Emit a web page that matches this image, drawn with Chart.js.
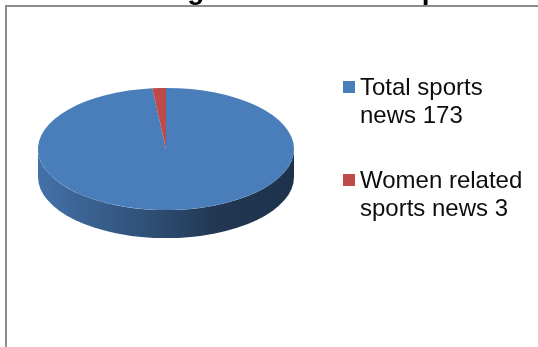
<!DOCTYPE html>
<html>
<head>
<meta charset="utf-8">
<script src="https://cdn.jsdelivr.net/npm/chart.js@4.4.1/dist/chart.umd.min.js"></script>
<style>
  html, body { margin: 0; padding: 0; background: #fff; }
  canvas { display: block; }
</style>
</head>
<body>
<canvas id="chart" width="538" height="347"></canvas>
<script>
const chartTitle = 'Coverage of Women in Sports';
const categories = ['Total sports news', 'Women related sports news'];
const newsCounts = [173, 3];
const sliceColors = ['#4a7ebb', '#be4b48'];

// look of the tilted pie
const TILT = 0.477;
const DEPTH = 28;
const FONT = '"Liberation Sans", Arial, sans-serif';

const shade = (hex, f) => {
  const n = parseInt(hex.slice(1), 16);
  const r = Math.round(((n >> 16) & 255) * f);
  const g = Math.round(((n >> 8) & 255) * f);
  const b = Math.round((n & 255) * f);
  return `rgb(${r},${g},${b})`;
};

const wrapText = (ctx, text, maxWidth) => {
  const lines = [];
  let line = '';
  text.split(' ').forEach((word) => {
    const next = line ? line + ' ' + word : word;
    if (line && ctx.measureText(next).width > maxWidth) {
      lines.push(line);
      line = word;
    } else {
      line = next;
    }
  });
  if (line) {
    lines.push(line);
  }
  return lines;
};

// side wall under the front half, then squash the top face
const pie3d = {
  id: 'pie3d',
  beforeDatasetsDraw(chart) {
    const ctx = chart.ctx;
    const meta = chart.getDatasetMeta(0);
    const { x, y, outerRadius } = meta.data[0].getProps(['x', 'y', 'outerRadius'], true);
    const ry = outerRadius * TILT;

    meta.data.forEach((arc, i) => {
      const { startAngle, endAngle } = arc.getProps(['startAngle', 'endAngle'], true);
      const grad = ctx.createLinearGradient(x - outerRadius, 0, x + outerRadius, 0);
      grad.addColorStop(0, shade(sliceColors[i], 0.9));
      grad.addColorStop(0.45, shade(sliceColors[i], 0.62));
      grad.addColorStop(0.7, shade(sliceColors[i], 0.44));
      grad.addColorStop(1, shade(sliceColors[i], 0.4));

      for (const shift of [0, 2 * Math.PI, -2 * Math.PI]) {
        const a = Math.max(startAngle + shift, 0);
        const b = Math.min(endAngle + shift, Math.PI);
        if (b <= a) {
          continue;
        }
        ctx.beginPath();
        ctx.ellipse(x, y, outerRadius, ry, 0, a, b);
        ctx.ellipse(x, y + DEPTH, outerRadius, ry, 0, b, a, true);
        ctx.closePath();
        ctx.fillStyle = grad;
        ctx.fill();
      }
    });

    ctx.save();
    ctx.translate(x, y);
    ctx.scale(1, TILT);
    ctx.translate(-x, -y);
  },
  afterDatasetsDraw(chart) {
    chart.ctx.restore();
  },
};

const frameAndText = {
  id: 'frameAndText',
  beforeDraw(chart) {
    const ctx = chart.ctx;
    ctx.save();
    ctx.fillStyle = '#fff';
    ctx.fillRect(0, 0, chart.width, chart.height);
    ctx.strokeStyle = '#8c8c8c';
    ctx.lineWidth = 2;
    ctx.strokeRect(6, 6, 700, 500);
    ctx.restore();
  },
  afterDraw(chart) {
    const ctx = chart.ctx;
    ctx.save();

    // title sits mostly above the top edge
    ctx.font = `bold 28px ${FONT}`;
    ctx.fillStyle = '#000';
    ctx.textAlign = 'center';
    ctx.textBaseline = 'alphabetic';
    ctx.fillText(chartTitle, 292, -1.5);

    // legend
    ctx.font = `24px ${FONT}`;
    ctx.textAlign = 'left';
    const lineHeight = 28;
    let top = 81;
    categories.forEach((name, i) => {
      ctx.fillStyle = sliceColors[i];
      ctx.fillRect(343, top, 12, 12);
      ctx.fillStyle = '#0d0d0d';
      const lines = wrapText(ctx, `${name} ${newsCounts[i]}`, 172);
      lines.forEach((line, j) => {
        ctx.fillText(line, 360, top + 14 + j * lineHeight);
      });
      top += 93;
    });
    ctx.restore();
  },
};

new Chart(document.getElementById('chart'), {
  type: 'pie',
  data: {
    labels: categories,
    datasets: [{
      data: newsCounts,
      backgroundColor: sliceColors,
      borderWidth: 0,
    }],
  },
  options: {
    responsive: false,
    animation: false,
    events: [],
    layout: {
      padding: { left: 38, right: 244, top: 21, bottom: 70 },
    },
    plugins: {
      legend: { display: false },
      tooltip: { enabled: false },
      title: { display: false },
    },
  },
  plugins: [frameAndText, pie3d],
});
</script>
</body>
</html>
